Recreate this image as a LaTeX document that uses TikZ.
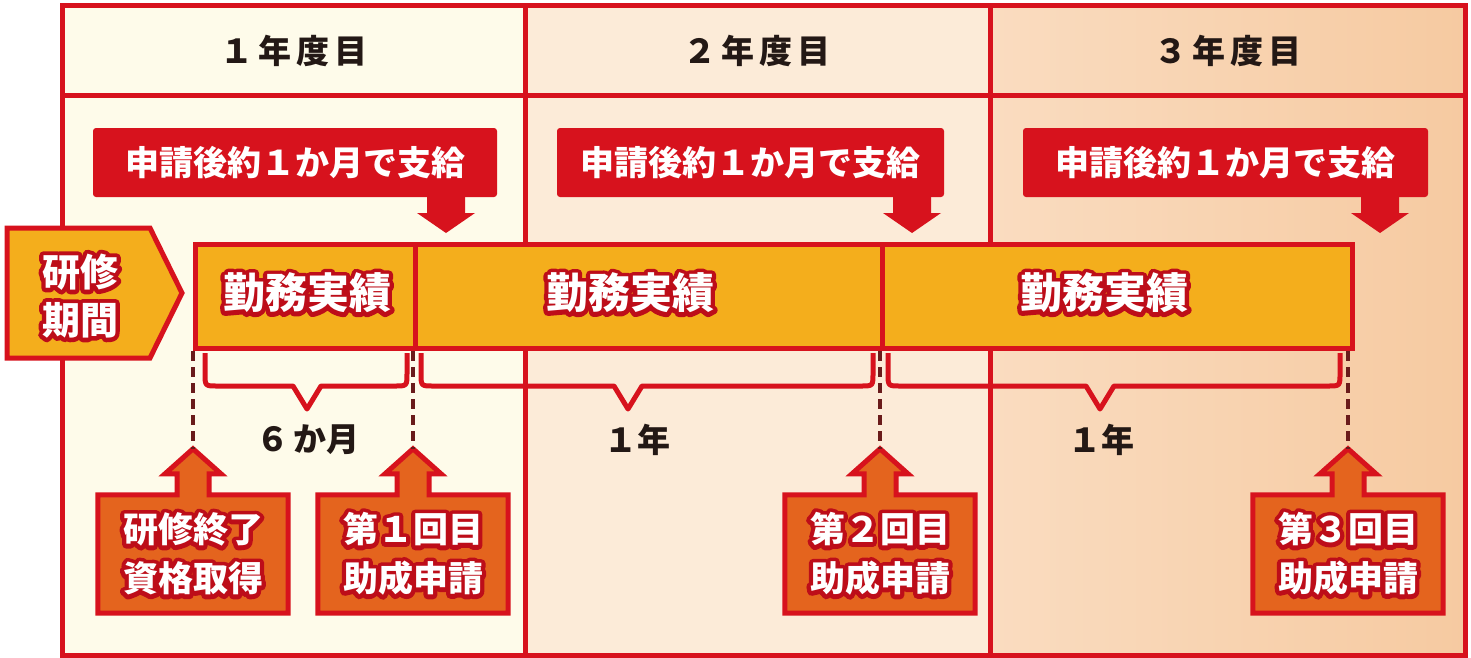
\documentclass[tikz,border=0pt]{standalone}
\usepackage{fontspec}
\newfontfamily\jp{Noto Sans CJK JP}
\definecolor{fr}{HTML}{D7121D}
\definecolor{gold}{HTML}{F4AE1C}
\definecolor{org}{HTML}{E4641E}
\definecolor{dk}{HTML}{6A1B1B}
\definecolor{cA}{HTML}{FEFBEA}
\definecolor{cB}{HTML}{FCEBD8}
\definecolor{cCa}{HTML}{FADCC0}
\definecolor{cCb}{HTML}{F6CAA1}
\definecolor{ink}{HTML}{231815}
\newcommand{\fsz}[2]{\fontsize{#1}{#2}\selectfont}
% outlined text: dark-red stroked copy underneath, white text on top
\newcommand{\ct}[1]{\leavevmode\rlap{\special{pdf:literal direct 1 Tr 8.5 w 1 j 0.74 0.05 0.10 RG}#1\special{pdf:literal direct 0 Tr}}#1}
\tikzset{
  frameline/.style={draw=fr, line width=5pt},
  hdr/.style={font=\jp\bfseries\fsz{33}{38}, text=ink, inner sep=0pt},
  banner/.style={fill=fr, rounded corners=3pt, text=white, font=\jp\bfseries\fsz{34}{38}, inner sep=0pt},
  downarrow/.style={fill=fr},
  seg/.style={draw=fr, fill=gold, line width=5pt, minimum height=104pt, inner sep=0pt, anchor=north west},
  segtext/.style={text=white, font=\jp\bfseries\fsz{42}{46}, inner sep=0pt},
  pentext/.style={text=white, font=\jp\bfseries\fsz{38}{48}, inner sep=0pt, align=center},
  bracestyle/.style={draw=fr, line width=5pt, line join=round},
  dashline/.style={draw=dk, line width=3.5pt, dash pattern=on 10pt off 6pt},
  spanlabel/.style={font=\jp\bfseries\fsz{33}{38}, text=ink, inner sep=0pt},
  evbox/.style={minimum width=190pt, minimum height=118pt, inner sep=0pt},
  evtext/.style={inner sep=0pt, text=white, align=center, font=\jp\bfseries\fsz{35}{49}},
  evshape/.style={fill=org, draw=fr, line width=5pt, line join=miter},
  pent/.style={fill=gold, draw=fr, line width=5pt, line join=miter}
}
\begin{document}
\begin{tikzpicture}[x=1pt,y=-1pt]
\useasboundingbox (0,0) rectangle (1471,657);
\fill[white] (0,0) rectangle (1471,657);
% column backgrounds
\fill[cA] (62,5) rectangle (525,655);
\fill[cB] (525,5) rectangle (990,655);
\shade[left color=cCa, right color=cCb] (990,5) rectangle (1465,655);
% frame
\draw[frameline] (62,5) rectangle (1465,655);
\draw[frameline] (62,95) -- (1465,95);
\draw[frameline] (525,5) -- (525,655);
\draw[frameline] (990,5) -- (990,655);
% headers
\node[hdr] (h1) at (294,51) {１\hspace{5pt}年\hspace{5pt}度\hspace{5pt}目};
\node[hdr] (h2) at (757,51) {２\hspace{5pt}年\hspace{5pt}度\hspace{5pt}目};
\node[hdr] (h3) at (1228,51) {３\hspace{5pt}年\hspace{5pt}度\hspace{5pt}目};
% banners
\node[banner, minimum width=404pt, minimum height=69pt] (b1) at (295,162.5) {申請後約１か月で支給};
\node[banner, minimum width=387pt, minimum height=69pt] (b2) at (750.5,162.5) {申請後約１か月で支給};
\node[banner, minimum width=405pt, minimum height=69pt] (b3) at (1225.5,162.5) {申請後約１か月で支給};
\coordinate (d1) at (446,233);
\coordinate (d2) at (912,233);
\coordinate (d3) at (1380,233);
\foreach \d in {d1,d2,d3}{
  \fill[downarrow] (\d) -- ++(29,-20) -- ++(-10,0) -- ++(0,-19) -- ++(-38,0) -- ++(0,19) -- ++(-10,0) -- cycle;
}
% bar segments
\node[seg, minimum width=220pt] (s1) at (193,242) {};
\node[seg, minimum width=467pt] (s2) at (413,242) {};
\node[seg, minimum width=470pt] (s3) at (880,242) {};
\node[segtext] (w1) at (307,293) {\ct{勤務実績}};
\node[segtext] (w2) at (630,293) {\ct{勤務実績}};
\node[segtext] (w3) at (1104,293) {\ct{勤務実績}};
% pentagon
\draw[pent] (7,228) -- (150,228) -- (182,293) -- (150,358) -- (7,358) -- cycle;
\node[pentext] (p) at (80,296) {\ct{研修}\\\ct{期間}};
% braces
\draw[bracestyle] (205,353) -- (205,373) .. controls (205,386) .. (217,386) -- (293,386) -- (307,409) -- (321,386) -- (395,386) .. controls (407,386) .. (407,373) -- (407,353);
\draw[bracestyle] (421,353) -- (421,373) .. controls (421,386) .. (433,386) -- (614,386) -- (628,409) -- (642,386) -- (861,386) .. controls (873,386) .. (873,373) -- (873,353);
\draw[bracestyle] (888,353) -- (888,373) .. controls (888,386) .. (900,386) -- (1086,386) -- (1100,409) -- (1114,386) -- (1328,386) .. controls (1340,386) .. (1340,373) -- (1340,353);
% span labels
\node[spanlabel] (l1) at (308,440) {６\hspace{4pt}か月};
\node[spanlabel] (l2) at (637,440) {１年};
\node[spanlabel] (l3) at (1101,440) {１年};
% event boxes
\node[evbox] (e1) at (193,554) {};
\node[evbox] (e2) at (413,554) {};
\node[evbox] (e3) at (880,554) {};
\node[evbox] (e4) at (1348,554) {};
\foreach \e in {e1,e2,e3,e4}{
  \draw[evshape] (\e.north west) -- ([xshift=-16pt]\e.north) -- ++(0,-21) -- ++(-12,0) -- ([yshift=46pt]\e.north) -- ++(28,25) -- ++(-12,0) -- ([xshift=16pt]\e.north) -- (\e.north east) -- (\e.south east) -- (\e.south west) -- cycle;
}
\coordinate (t1) at ([yshift=46pt]e1.north);
\coordinate (t2) at ([yshift=46pt]e2.north);
\coordinate (t3) at ([yshift=46pt]e3.north);
\coordinate (t4) at ([yshift=46pt]e4.north);
\node[evtext] (x1) at (e1) {\ct{研修終了}\\\ct{資格取得}};
\node[evtext] (x2) at (e2) {\ct{第１回目}\\\ct{助成申請}};
\node[evtext] (x3) at (e3) {\ct{第２回目}\\\ct{助成申請}};
\node[evtext] (x4) at (e4) {\ct{第３回目}\\\ct{助成申請}};
% dashed lines
\draw[dashline] (s1.south west) -- (t1);
\draw[dashline] (s2.south west) -- (t2);
\draw[dashline] (s3.south west) -- (t3);
\draw[dashline] (t4 |- s3.south) -- (t4);
\end{tikzpicture}
\end{document}
